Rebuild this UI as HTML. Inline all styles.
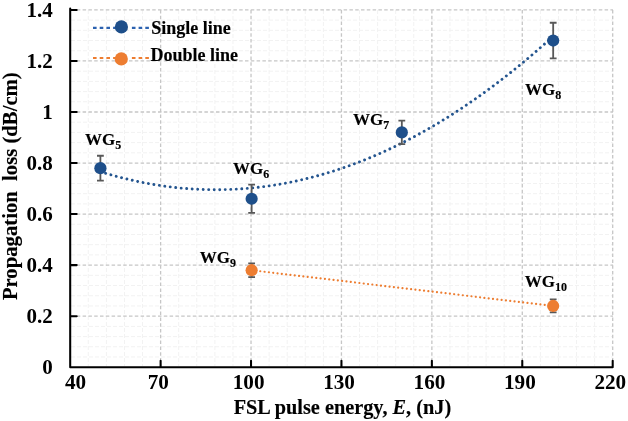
<!DOCTYPE html>
<html><head><meta charset="utf-8"><style>
html,body{margin:0;padding:0;background:#fff;}
svg{display:block;filter:blur(0.35px);}
text{font-family:"Liberation Serif",serif;}
</style></head><body>
<svg width="628" height="421" viewBox="0 0 628 421">
<rect width="628" height="421" fill="#fff"/>
<line x1="71" y1="356.99" x2="613" y2="356.99" stroke="#f2f2f2" stroke-width="1" stroke-dasharray="4 2"/>
<line x1="71" y1="346.78" x2="613" y2="346.78" stroke="#f2f2f2" stroke-width="1" stroke-dasharray="4 2"/>
<line x1="71" y1="336.58" x2="613" y2="336.58" stroke="#f2f2f2" stroke-width="1" stroke-dasharray="4 2"/>
<line x1="71" y1="326.37" x2="613" y2="326.37" stroke="#f2f2f2" stroke-width="1" stroke-dasharray="4 2"/>
<line x1="71" y1="305.95" x2="613" y2="305.95" stroke="#f2f2f2" stroke-width="1" stroke-dasharray="4 2"/>
<line x1="71" y1="295.74" x2="613" y2="295.74" stroke="#f2f2f2" stroke-width="1" stroke-dasharray="4 2"/>
<line x1="71" y1="285.54" x2="613" y2="285.54" stroke="#f2f2f2" stroke-width="1" stroke-dasharray="4 2"/>
<line x1="71" y1="275.33" x2="613" y2="275.33" stroke="#f2f2f2" stroke-width="1" stroke-dasharray="4 2"/>
<line x1="71" y1="254.91" x2="613" y2="254.91" stroke="#f2f2f2" stroke-width="1" stroke-dasharray="4 2"/>
<line x1="71" y1="244.70" x2="613" y2="244.70" stroke="#f2f2f2" stroke-width="1" stroke-dasharray="4 2"/>
<line x1="71" y1="234.50" x2="613" y2="234.50" stroke="#f2f2f2" stroke-width="1" stroke-dasharray="4 2"/>
<line x1="71" y1="224.29" x2="613" y2="224.29" stroke="#f2f2f2" stroke-width="1" stroke-dasharray="4 2"/>
<line x1="71" y1="203.87" x2="613" y2="203.87" stroke="#f2f2f2" stroke-width="1" stroke-dasharray="4 2"/>
<line x1="71" y1="193.66" x2="613" y2="193.66" stroke="#f2f2f2" stroke-width="1" stroke-dasharray="4 2"/>
<line x1="71" y1="183.46" x2="613" y2="183.46" stroke="#f2f2f2" stroke-width="1" stroke-dasharray="4 2"/>
<line x1="71" y1="173.25" x2="613" y2="173.25" stroke="#f2f2f2" stroke-width="1" stroke-dasharray="4 2"/>
<line x1="71" y1="152.83" x2="613" y2="152.83" stroke="#f2f2f2" stroke-width="1" stroke-dasharray="4 2"/>
<line x1="71" y1="142.62" x2="613" y2="142.62" stroke="#f2f2f2" stroke-width="1" stroke-dasharray="4 2"/>
<line x1="71" y1="132.42" x2="613" y2="132.42" stroke="#f2f2f2" stroke-width="1" stroke-dasharray="4 2"/>
<line x1="71" y1="122.21" x2="613" y2="122.21" stroke="#f2f2f2" stroke-width="1" stroke-dasharray="4 2"/>
<line x1="71" y1="101.79" x2="613" y2="101.79" stroke="#f2f2f2" stroke-width="1" stroke-dasharray="4 2"/>
<line x1="71" y1="91.58" x2="613" y2="91.58" stroke="#f2f2f2" stroke-width="1" stroke-dasharray="4 2"/>
<line x1="71" y1="81.38" x2="613" y2="81.38" stroke="#f2f2f2" stroke-width="1" stroke-dasharray="4 2"/>
<line x1="71" y1="71.17" x2="613" y2="71.17" stroke="#f2f2f2" stroke-width="1" stroke-dasharray="4 2"/>
<line x1="71" y1="50.75" x2="613" y2="50.75" stroke="#f2f2f2" stroke-width="1" stroke-dasharray="4 2"/>
<line x1="71" y1="40.54" x2="613" y2="40.54" stroke="#f2f2f2" stroke-width="1" stroke-dasharray="4 2"/>
<line x1="71" y1="30.34" x2="613" y2="30.34" stroke="#f2f2f2" stroke-width="1" stroke-dasharray="4 2"/>
<line x1="71" y1="20.13" x2="613" y2="20.13" stroke="#f2f2f2" stroke-width="1" stroke-dasharray="4 2"/>
<line x1="88.28" y1="10" x2="88.28" y2="366" stroke="#f2f2f2" stroke-width="1" stroke-dasharray="4 2"/>
<line x1="106.37" y1="10" x2="106.37" y2="366" stroke="#f2f2f2" stroke-width="1" stroke-dasharray="4 2"/>
<line x1="124.45" y1="10" x2="124.45" y2="366" stroke="#f2f2f2" stroke-width="1" stroke-dasharray="4 2"/>
<line x1="142.53" y1="10" x2="142.53" y2="366" stroke="#f2f2f2" stroke-width="1" stroke-dasharray="4 2"/>
<line x1="178.70" y1="10" x2="178.70" y2="366" stroke="#f2f2f2" stroke-width="1" stroke-dasharray="4 2"/>
<line x1="196.78" y1="10" x2="196.78" y2="366" stroke="#f2f2f2" stroke-width="1" stroke-dasharray="4 2"/>
<line x1="214.87" y1="10" x2="214.87" y2="366" stroke="#f2f2f2" stroke-width="1" stroke-dasharray="4 2"/>
<line x1="232.95" y1="10" x2="232.95" y2="366" stroke="#f2f2f2" stroke-width="1" stroke-dasharray="4 2"/>
<line x1="269.12" y1="10" x2="269.12" y2="366" stroke="#f2f2f2" stroke-width="1" stroke-dasharray="4 2"/>
<line x1="287.20" y1="10" x2="287.20" y2="366" stroke="#f2f2f2" stroke-width="1" stroke-dasharray="4 2"/>
<line x1="305.28" y1="10" x2="305.28" y2="366" stroke="#f2f2f2" stroke-width="1" stroke-dasharray="4 2"/>
<line x1="323.37" y1="10" x2="323.37" y2="366" stroke="#f2f2f2" stroke-width="1" stroke-dasharray="4 2"/>
<line x1="359.53" y1="10" x2="359.53" y2="366" stroke="#f2f2f2" stroke-width="1" stroke-dasharray="4 2"/>
<line x1="377.62" y1="10" x2="377.62" y2="366" stroke="#f2f2f2" stroke-width="1" stroke-dasharray="4 2"/>
<line x1="395.70" y1="10" x2="395.70" y2="366" stroke="#f2f2f2" stroke-width="1" stroke-dasharray="4 2"/>
<line x1="413.78" y1="10" x2="413.78" y2="366" stroke="#f2f2f2" stroke-width="1" stroke-dasharray="4 2"/>
<line x1="449.95" y1="10" x2="449.95" y2="366" stroke="#f2f2f2" stroke-width="1" stroke-dasharray="4 2"/>
<line x1="468.03" y1="10" x2="468.03" y2="366" stroke="#f2f2f2" stroke-width="1" stroke-dasharray="4 2"/>
<line x1="486.12" y1="10" x2="486.12" y2="366" stroke="#f2f2f2" stroke-width="1" stroke-dasharray="4 2"/>
<line x1="504.20" y1="10" x2="504.20" y2="366" stroke="#f2f2f2" stroke-width="1" stroke-dasharray="4 2"/>
<line x1="540.37" y1="10" x2="540.37" y2="366" stroke="#f2f2f2" stroke-width="1" stroke-dasharray="4 2"/>
<line x1="558.45" y1="10" x2="558.45" y2="366" stroke="#f2f2f2" stroke-width="1" stroke-dasharray="4 2"/>
<line x1="576.53" y1="10" x2="576.53" y2="366" stroke="#f2f2f2" stroke-width="1" stroke-dasharray="4 2"/>
<line x1="594.62" y1="10" x2="594.62" y2="366" stroke="#f2f2f2" stroke-width="1" stroke-dasharray="4 2"/>
<line x1="71" y1="316.16" x2="613" y2="316.16" stroke="#c6c6c6" stroke-width="1.3" stroke-dasharray="3.5 2.3"/>
<line x1="71" y1="265.12" x2="613" y2="265.12" stroke="#c6c6c6" stroke-width="1.3" stroke-dasharray="3.5 2.3"/>
<line x1="71" y1="214.08" x2="613" y2="214.08" stroke="#c6c6c6" stroke-width="1.3" stroke-dasharray="3.5 2.3"/>
<line x1="71" y1="163.04" x2="613" y2="163.04" stroke="#c6c6c6" stroke-width="1.3" stroke-dasharray="3.5 2.3"/>
<line x1="71" y1="112.00" x2="613" y2="112.00" stroke="#c6c6c6" stroke-width="1.3" stroke-dasharray="3.5 2.3"/>
<line x1="71" y1="60.96" x2="613" y2="60.96" stroke="#c6c6c6" stroke-width="1.3" stroke-dasharray="3.5 2.3"/>
<line x1="71" y1="9.92" x2="613" y2="9.92" stroke="#c6c6c6" stroke-width="1.3" stroke-dasharray="3.5 2.3"/>
<line x1="160.62" y1="10" x2="160.62" y2="366" stroke="#c6c6c6" stroke-width="1.3" stroke-dasharray="3.5 2.3"/>
<line x1="251.03" y1="10" x2="251.03" y2="366" stroke="#c6c6c6" stroke-width="1.3" stroke-dasharray="3.5 2.3"/>
<line x1="341.45" y1="10" x2="341.45" y2="366" stroke="#c6c6c6" stroke-width="1.3" stroke-dasharray="3.5 2.3"/>
<line x1="431.87" y1="10" x2="431.87" y2="366" stroke="#c6c6c6" stroke-width="1.3" stroke-dasharray="3.5 2.3"/>
<line x1="522.28" y1="10" x2="522.28" y2="366" stroke="#c6c6c6" stroke-width="1.3" stroke-dasharray="3.5 2.3"/>
<line x1="612.70" y1="10" x2="612.70" y2="366" stroke="#c6c6c6" stroke-width="1.3" stroke-dasharray="3.5 2.3"/>
<path d="M100.34,171.72 L107.87,173.99 L115.41,176.11 L122.94,178.07 L130.48,179.88 L138.01,181.54 L145.55,183.05 L153.08,184.40 L160.62,185.60 L168.15,186.65 L175.69,187.54 L183.22,188.28 L190.76,188.87 L198.29,189.30 L205.82,189.58 L213.36,189.71 L220.89,189.68 L228.43,189.50 L235.96,189.17 L243.50,188.69 L251.03,188.05 L258.57,187.26 L266.10,186.31 L273.64,185.22 L281.17,183.97 L288.71,182.56 L296.24,181.01 L303.78,179.30 L311.31,177.43 L318.85,175.42 L326.38,173.25 L333.92,170.93 L341.45,168.45 L348.98,165.82 L356.52,163.04 L364.05,160.11 L371.59,157.02 L379.12,153.78 L386.66,150.38 L394.19,146.83 L401.73,143.13 L409.26,139.28 L416.80,135.27 L424.33,131.11 L431.87,126.80 L439.40,122.34 L446.94,117.72 L454.47,112.94 L462.01,108.02 L469.54,102.94 L477.07,97.71 L484.61,92.32 L492.14,86.79 L499.68,81.10 L507.21,75.25 L514.75,69.25 L522.28,63.10 L529.82,56.80 L537.35,50.34 L544.89,43.73 L552.42,36.97" fill="none" stroke="#24558F" stroke-width="2.9" stroke-linecap="round" stroke-dasharray="0.01 5.5"/>
<path d="M251.63,270.22 L553.22,305.95" fill="none" stroke="#ED7D31" stroke-width="2.2" stroke-linecap="round" stroke-dasharray="0.01 4.33"/>
<path d="M100.40,155.74 V180.54 M97.00,155.74 H103.80 M97.00,180.54 H103.80" stroke="#585858" stroke-width="1.8" fill="none"/>
<path d="M251.64,184.57 V212.97 M248.24,184.57 H255.04 M248.24,212.97 H255.04" stroke="#585858" stroke-width="1.8" fill="none"/>
<path d="M401.82,120.72 V144.12 M398.42,120.72 H405.22 M398.42,144.12 H405.22" stroke="#585858" stroke-width="1.8" fill="none"/>
<path d="M553.18,22.74 V58.34 M549.78,22.74 H556.58 M549.78,58.34 H556.58" stroke="#585858" stroke-width="1.8" fill="none"/>
<path d="M251.64,263.32 V277.12 M248.24,263.32 H255.04 M248.24,277.12 H255.04" stroke="#585858" stroke-width="1.8" fill="none"/>
<path d="M553.18,299.45 V312.45 M549.78,299.45 H556.58 M549.78,312.45 H556.58" stroke="#585858" stroke-width="1.8" fill="none"/>
<circle cx="100.40" cy="168.14" r="6.1" fill="#1E4F8A"/>
<circle cx="251.64" cy="198.77" r="6.1" fill="#1E4F8A"/>
<circle cx="401.82" cy="132.42" r="6.1" fill="#1E4F8A"/>
<circle cx="553.18" cy="40.54" r="6.1" fill="#1E4F8A"/>
<circle cx="251.64" cy="270.22" r="6.1" fill="#ED7D31"/>
<circle cx="553.18" cy="305.95" r="6.1" fill="#ED7D31"/>
<path d="M70.2,9.9 H76.7 M70.2,8.6 V367.2 H612.7 V360.8 M70.2,316.16 H76.7 M70.2,265.12 H76.7 M70.2,214.08 H76.7 M70.2,163.04 H76.7 M70.2,112.00 H76.7 M70.2,60.96 H76.7 M160.62,367.2 V360.8 M251.03,367.2 V360.8 M341.45,367.2 V360.8 M431.87,367.2 V360.8 M522.28,367.2 V360.8" stroke="#000" stroke-width="2.05" fill="none" stroke-linejoin="round" stroke-linecap="round"/>
<line x1="93" y1="27.8" x2="117" y2="27.8" stroke="#2C62B0" stroke-width="2.2" stroke-dasharray="3.6 3.1"/>
<line x1="131.9" y1="27.8" x2="149" y2="27.8" stroke="#2C62B0" stroke-width="2.2" stroke-dasharray="3.6 3.1"/>
<line x1="93" y1="58.0" x2="117" y2="58.0" stroke="#ED7D31" stroke-width="2.2" stroke-dasharray="3.6 3.1"/>
<line x1="131.9" y1="58.0" x2="149" y2="58.0" stroke="#ED7D31" stroke-width="2.2" stroke-dasharray="3.6 3.1"/>
<circle cx="121.4" cy="26.9" r="6.6" fill="#1E4F8A"/>
<circle cx="121.3" cy="58.9" r="6.6" fill="#ED7D31"/>
<text x="151.2" y="33.9" font-family="Liberation Serif" font-weight="bold" stroke="#000" stroke-width="0.15" font-size="18">Single line</text>
<text x="150.6" y="61.3" font-family="Liberation Serif" font-weight="bold" stroke="#000" stroke-width="0.15" font-size="18">Double line</text>
<text x="52.8" y="374.30" text-anchor="end" font-family="Liberation Serif" font-weight="bold" font-size="21">0</text>
<text x="52.8" y="323.26" text-anchor="end" font-family="Liberation Serif" font-weight="bold" font-size="21">0.2</text>
<text x="52.8" y="272.22" text-anchor="end" font-family="Liberation Serif" font-weight="bold" font-size="21">0.4</text>
<text x="52.8" y="221.18" text-anchor="end" font-family="Liberation Serif" font-weight="bold" font-size="21">0.6</text>
<text x="52.8" y="170.14" text-anchor="end" font-family="Liberation Serif" font-weight="bold" font-size="21">0.8</text>
<text x="52.8" y="119.10" text-anchor="end" font-family="Liberation Serif" font-weight="bold" font-size="21">1</text>
<text x="52.8" y="68.06" text-anchor="end" font-family="Liberation Serif" font-weight="bold" font-size="21">1.2</text>
<text x="52.8" y="17.02" text-anchor="end" font-family="Liberation Serif" font-weight="bold" font-size="21">1.4</text>
<text x="75.50" y="388.9" text-anchor="middle" font-family="Liberation Serif" font-weight="bold" font-size="21.2">40</text>
<text x="158.22" y="388.9" text-anchor="middle" font-family="Liberation Serif" font-weight="bold" font-size="21.2">70</text>
<text x="248.63" y="388.9" text-anchor="middle" font-family="Liberation Serif" font-weight="bold" font-size="21.2">100</text>
<text x="339.05" y="388.9" text-anchor="middle" font-family="Liberation Serif" font-weight="bold" font-size="21.2">130</text>
<text x="429.47" y="388.9" text-anchor="middle" font-family="Liberation Serif" font-weight="bold" font-size="21.2">160</text>
<text x="519.88" y="388.9" text-anchor="middle" font-family="Liberation Serif" font-weight="bold" font-size="21.2">190</text>
<text x="610.30" y="388.9" text-anchor="middle" font-family="Liberation Serif" font-weight="bold" font-size="21.2">220</text>
<text x="342.4" y="414" text-anchor="middle" font-family="Liberation Serif" font-weight="bold" stroke="#000" stroke-width="0.15" font-size="20.3">FSL pulse energy, <tspan font-style="italic">E</tspan>, (nJ)</text>
<text transform="translate(16.8,186.2) rotate(-90)" text-anchor="middle" font-family="Liberation Serif" font-weight="bold" stroke="#000" stroke-width="0.15" font-size="20.7" xml:space="preserve">Propagation  loss (dB/cm)</text>
<text x="85.10" y="144.50" font-family="Liberation Serif" font-weight="bold" stroke="#000" stroke-width="0.15" font-size="17">WG<tspan font-size="12" dy="4">5</tspan></text>
<text x="233.10" y="173.70" font-family="Liberation Serif" font-weight="bold" stroke="#000" stroke-width="0.15" font-size="17">WG<tspan font-size="12" dy="4">6</tspan></text>
<text x="353.10" y="124.90" font-family="Liberation Serif" font-weight="bold" stroke="#000" stroke-width="0.15" font-size="17">WG<tspan font-size="12" dy="4">7</tspan></text>
<text x="525.10" y="94.50" font-family="Liberation Serif" font-weight="bold" stroke="#000" stroke-width="0.15" font-size="17">WG<tspan font-size="12" dy="4">8</tspan></text>
<text x="199.70" y="262.70" font-family="Liberation Serif" font-weight="bold" stroke="#000" stroke-width="0.15" font-size="17">WG<tspan font-size="12" dy="4">9</tspan></text>
<text x="524.70" y="286.90" font-family="Liberation Serif" font-weight="bold" stroke="#000" stroke-width="0.15" font-size="17">WG<tspan font-size="12" dy="4">10</tspan></text>
</svg>
</body></html>
